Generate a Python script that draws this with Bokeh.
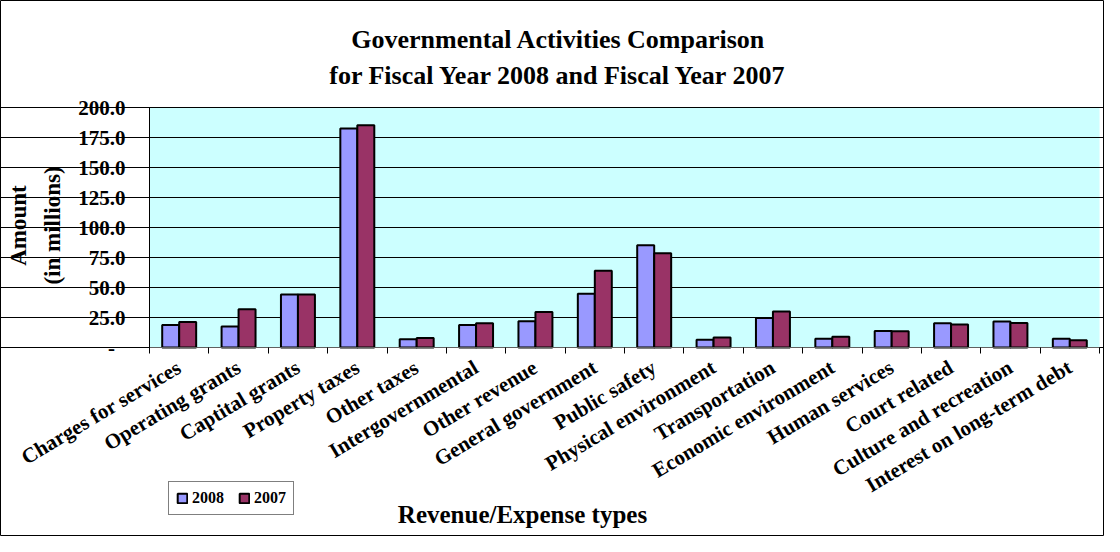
import math
from bokeh.plotting import figure
from bokeh.models import (Range1d, FixedTicker, Legend, LegendItem, Label, ColumnDataSource,
                          BoxAnnotation)
from bokeh.transform import dodge
from bokeh.embed import file_html
from bokeh.resources import INLINE

categories = ["Charges for services", "Operating grants", "Captital grants", "Property taxes",
              "Other taxes", "Intergovernmental", "Other revenue", "General government",
              "Public safety", "Physical environment", "Transportation", "Economic environment",
              "Human services", "Court related", "Culture and recreation", "Interest on long-term debt"]
values_2008 = [18.8, 17.4, 44.2, 182.5, 6.9, 18.8, 21.8, 44.8, 85.2, 6.4, 24.6, 7.2, 13.8, 20.2, 21.6, 7.2]
values_2007 = [21.3, 31.8, 44.2, 185.2, 8.0, 20.2, 29.6, 63.9, 78.5, 8.3, 29.9, 8.9, 13.5, 19.1, 20.5, 6.1]
series_names = ["2008", "2007"]
y_ticks = [0, 25, 50, 75, 100, 125, 150, 175, 200]
y_tick_labels = ["-\u00a0\u00a0", "25.0", "50.0", "75.0", "100.0", "125.0", "150.0", "175.0", "200.0"]
title_lines = ["Governmental Activities Comparison", "for Fiscal Year 2008 and Fiscal Year 2007"]
x_title = "Revenue/Expense types"
y_title = "Amount\n(in millions)"

FONT = "Liberation Serif"
N = len(categories)
YMAX = 200

# ---- layout (page pixels) ----
W, H = 1104, 536
PAGE0 = 8
PL, PR, PT, PB = 157, 1107, 115, 355          # plot-area edges on the page
PX = (PR - PL) / N                             # px per category
PY = (PB - PT) / YMAX                          # px per unit value


def dx(px):
    return -0.5 + (px - PL) / PX


def dy(py):
    return (PB - py) / PY


idx = list(range(N))
src = ColumnDataSource(dict(x=idx, v2008=values_2008, v2007=values_2007))

p = figure(width=W, height=H, output_backend="svg", toolbar_location=None,
           x_range=Range1d(dx(PAGE0), dx(PAGE0 + W)), y_range=Range1d(dy(PAGE0 + H), dy(PAGE0)),
           min_border=0, min_border_left=0, min_border_right=0, min_border_top=0, min_border_bottom=0)
p.background_fill_color = "white"
p.border_fill_color = "white"
p.outline_line_color = "black"
p.outline_line_width = 1

# plot area background
p.add_layout(BoxAnnotation(left=-0.5, right=N - 0.5, bottom=0, top=YMAX, fill_color="#CCFFFF",
                           fill_alpha=1.0, line_color=None, level="image"))

w = 0.286
r1 = p.vbar(x=dodge("x", -w / 2), top="v2008", width=w, source=src,
            fill_color="#9999FF", line_color="black", line_width=2)
r2 = p.vbar(x=dodge("x", w / 2), top="v2007", width=w, source=src,
            fill_color="#993366", line_color="black", line_width=2)

# y axis
ya = p.yaxis[0]
ya.fixed_location = -0.5
ya.bounds = (0, YMAX)
ya.ticker = FixedTicker(ticks=y_ticks)
ya.major_label_overrides = {t: l for t, l in zip(y_ticks, y_tick_labels)}
ya.major_label_text_font = FONT
ya.major_label_text_font_size = "21px"
ya.major_label_text_font_style = "bold"
ya.major_label_text_color = "black"
ya.major_tick_out = 5
ya.major_tick_in = 0
ya.minor_tick_out = 0
ya.minor_tick_in = 0
ya.major_label_standoff = 19
ya.axis_line_color = "black"
ya.major_tick_line_color = "black"

# x axis
xa = p.xaxis[0]
xa.fixed_location = 0
xa.bounds = (-0.5, N - 0.5)
xa.ticker = FixedTicker(ticks=idx, minor_ticks=[i - 0.5 for i in range(N + 1)])
xa.major_label_overrides = {i: c for i, c in zip(idx, categories)}
xa.major_label_orientation = 0.54
xa.major_label_text_font = FONT
xa.major_label_text_font_size = "21px"
xa.major_label_text_font_style = "bold"
xa.major_label_text_color = "black"
xa.major_tick_out = 0
xa.major_tick_in = 0
xa.minor_tick_out = 6
xa.minor_tick_in = 0
xa.minor_tick_line_color = "black"
xa.axis_line_color = "#606060"
xa.major_label_standoff = 12

p.xgrid.grid_line_color = None
p.ygrid.ticker = FixedTicker(ticks=y_ticks)
p.ygrid.bounds = (-0.5, N - 0.5)
p.ygrid.grid_line_color = "black"
p.ygrid.grid_line_width = 1

# titles
for line, base in zip(title_lines, [47, 83]):
    p.add_layout(Label(x=dx(566), y=dy(base), text=line, text_align="center",
                       text_baseline="alphabetic", text_font=FONT, text_font_size="26px",
                       text_font_style="bold", text_color="black"))

p.add_layout(Label(x=dx(43), y=dy(233), text=y_title, angle=math.pi / 2, text_align="center",
                   text_baseline="middle", text_font=FONT, text_font_size="23px",
                   text_font_style="bold", text_color="black", text_line_height=1.35))

p.add_layout(Label(x=dx(530), y=dy(522), text=x_title, text_align="center",
                   text_baseline="middle", text_font=FONT, text_font_size="25px",
                   text_font_style="bold", text_color="black"))

legend = Legend(items=[LegendItem(label=series_names[0], renderers=[r1]),
                       LegendItem(label=series_names[1], renderers=[r2])],
                location=(176 - PAGE0, PAGE0 + H - 523), orientation="horizontal")
legend.label_text_font = FONT
legend.label_text_font_size = "16px"
legend.label_text_font_style = "bold"
legend.label_text_color = "black"
legend.glyph_width = 12
legend.glyph_height = 12
legend.label_standoff = 4
legend.spacing = 14
legend.padding = 7
legend.label_height = 16
legend.margin = 0
legend.border_line_color = "black"
legend.border_line_width = 1
legend.background_fill_color = "white"
legend.background_fill_alpha = 1.0
p.add_layout(legend, "center")

open("out.html", "w").write(file_html(p, INLINE))
